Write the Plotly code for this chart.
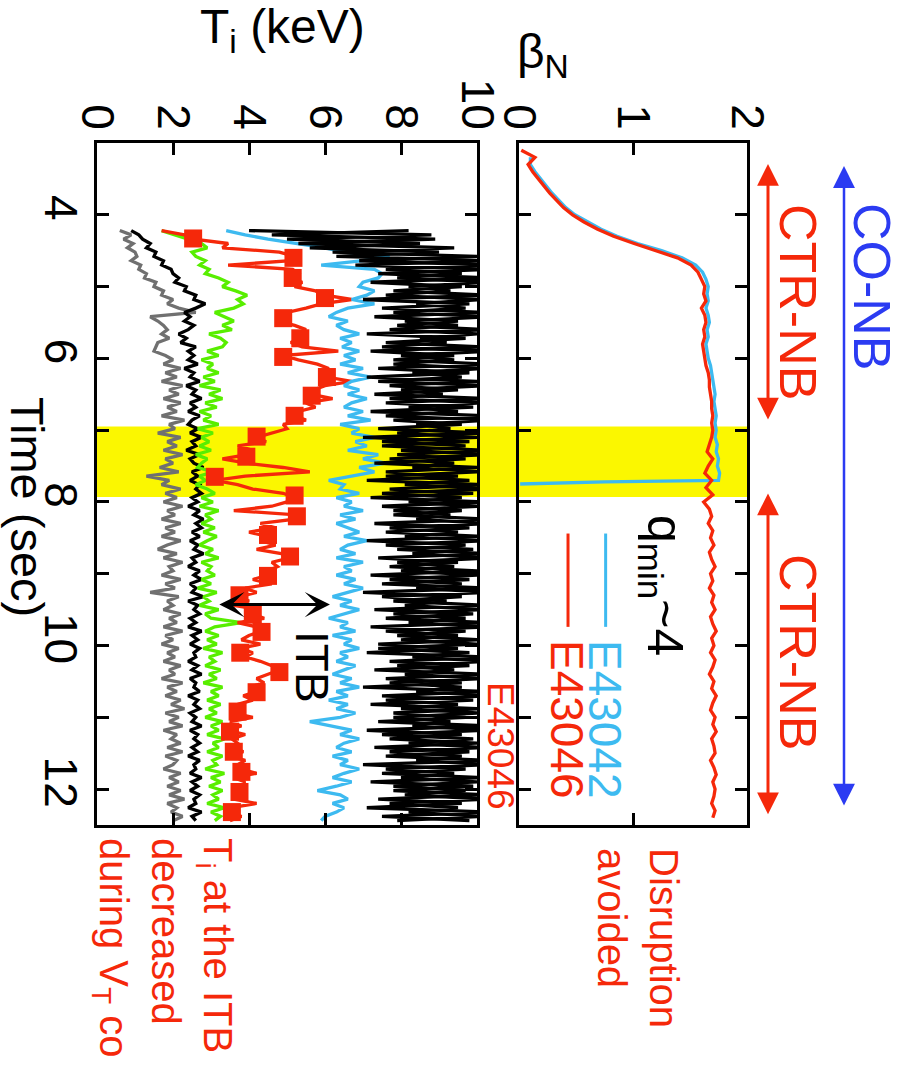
import numpy as np
import plotly.graph_objects as go

W, H = 903, 1066

RED = "#f5280a"
CYAN = "#3dbaf0"
BLUE = "#2b3bf2"
GREEN = "#58ee00"
GRAY = "#707070"
YELLOW = "#fbf700"
FONT = "Liberation Sans, Arial, sans-serif"

# ---------------- beta_N (upper panel) ----------------
t_beta_46 = np.round(3.1 + 0.1 * np.arange(94), 2)
beta_46 = [
    0.02, 0.14, 0.08, 0.12, 0.17, 0.22, 0.27, 0.33, 0.39, 0.47,
    0.57, 0.69, 0.83, 1.01, 1.21, 1.39, 1.51, 1.57, 1.60, 1.63,
    1.62, 1.64, 1.60, 1.63, 1.64, 1.62, 1.63, 1.61, 1.62, 1.63,
    1.64, 1.66, 1.67, 1.67, 1.68, 1.69, 1.69, 1.70, 1.69, 1.70,
    1.69, 1.67, 1.65, 1.70, 1.66, 1.63, 1.69, 1.64, 1.70, 1.62,
    1.67, 1.69, 1.66, 1.70, 1.68, 1.71, 1.67, 1.69, 1.72, 1.68,
    1.70, 1.67, 1.71, 1.69, 1.72, 1.68, 1.70, 1.73, 1.69, 1.71,
    1.68, 1.72, 1.70, 1.67, 1.71, 1.69, 1.73, 1.70, 1.68, 1.72,
    1.70, 1.73, 1.69, 1.71, 1.72, 1.68, 1.71, 1.73, 1.70, 1.72,
    1.71, 1.69, 1.72, 1.70,
]

t_beta_42 = list(np.round(3.2 + 0.1 * np.arange(46), 2)) + [7.72, 7.75]
beta_42 = [
    0.10, 0.10, 0.14, 0.19, 0.24, 0.29, 0.35, 0.41, 0.49, 0.60,
    0.72, 0.86, 1.04, 1.25, 1.43, 1.55, 1.61, 1.64, 1.66, 1.65,
    1.66, 1.64, 1.66, 1.67, 1.65, 1.66, 1.64, 1.65, 1.66, 1.68,
    1.69, 1.70, 1.71, 1.72, 1.71, 1.72, 1.73, 1.72, 1.73, 1.72,
    1.74, 1.73, 1.75, 1.74, 1.76, 1.75,
    0.75, 0.01,
]

# ---------------- T_i channels (lower panel) ----------------
t_ti = np.round(4.22 + 0.06 * np.arange(138), 2)

ti_gray = [
    0.6, 0.9, 0.7, 0.95, 0.8, 1.0, 1.05, 0.9, 1.15, 1.1,
    1.3, 1.25, 1.55, 1.5, 1.75, 1.7, 2.0, 1.85, 2.15, 2.6,
    1.4, 1.6, 1.75, 1.85, 1.7, 1.9, 1.6, 1.55, 1.5, 1.8,
    2.0, 1.75, 2.2, 1.8, 2.1, 1.7, 2.25, 1.9, 2.15, 1.75,
    2.2, 1.85, 2.1, 1.7, 2.3, 1.9, 2.05, 1.6, 2.2, 1.85,
    2.1, 1.75, 2.25, 1.8, 2.0, 1.65, 2.15, 1.3, 1.9, 1.7,
    2.2, 1.8, 2.1, 1.75, 2.25, 1.85, 2.05, 1.7, 2.2, 1.8,
    2.05, 1.7, 2.2, 1.85, 1.6, 2.1, 1.75, 2.25, 1.9, 2.0,
    1.7, 2.2, 1.8, 2.05, 1.4, 2.15, 1.85, 2.0, 1.75, 2.2,
    1.9, 2.1, 1.75, 2.25, 1.8, 2.0, 1.7, 2.15, 1.85, 2.05,
    1.75, 2.2, 1.9, 2.05, 1.7, 2.25, 1.85, 2.1, 1.8, 2.2,
    1.95, 2.3, 1.8, 2.15, 1.9, 2.25, 1.75, 2.1, 1.95, 2.2,
    1.85, 2.25, 1.8, 2.1, 2.0, 1.75, 2.2, 1.9, 2.15, 1.85,
    2.2, 1.9, 2.3, 1.85, 2.1, 1.95, 2.25, 2.0,
]

ti_black_low = [
    0.9, 1.1, 1.2, 1.4, 1.3, 1.55, 1.5, 1.75, 1.7, 1.95,
    2.0, 2.15, 2.05, 2.35, 2.3, 2.6, 2.55, 2.85, 2.6, 2.3,
    2.45, 2.3, 2.55, 2.4, 2.15, 2.35, 2.2, 2.6, 2.4, 2.55,
    2.4, 2.65, 2.3, 2.55, 2.45, 2.7, 2.35, 2.6, 2.5, 2.75,
    2.45, 2.6, 2.4, 2.7, 2.5, 2.4, 2.65, 2.45, 2.75, 2.5,
    2.6, 2.35, 2.7, 2.45, 2.55, 2.8, 2.5, 2.65, 2.45, 2.7,
    2.6, 2.75, 2.5, 2.65, 2.4, 2.7, 2.55, 2.8, 2.6, 2.75,
    2.5, 2.7, 2.45, 2.65, 2.55, 2.8, 2.5, 2.6, 2.4, 2.7,
    2.55, 2.75, 2.45, 2.6, 2.5, 2.8, 2.4, 2.65, 2.55, 2.7,
    2.45, 2.6, 2.4, 2.75, 2.5, 2.65, 2.45, 2.7, 2.55, 2.6,
    2.4, 2.65, 2.5, 2.75, 2.45, 2.6, 2.55, 2.7, 2.4, 2.65,
    2.55, 2.7, 2.45, 2.6, 2.5, 2.75, 2.45, 2.65, 2.55, 2.7,
    2.5, 2.65, 2.4, 2.7, 2.55, 2.6, 2.45, 2.75, 2.5, 2.65,
    2.45, 2.7, 2.55, 2.6, 2.4, 2.75, 2.5, 2.6,
]

ti_green = [
    1.7, 2.05, 2.4, 2.75, 2.9, 2.5, 2.6, 2.85, 2.7, 2.95,
    2.85, 3.2, 3.45, 3.3, 3.65, 3.95, 3.7, 3.85, 3.6, 3.1,
    3.35, 3.6, 3.3, 3.55, 2.95, 3.25, 3.4, 3.3, 2.9, 3.2,
    2.75, 3.05, 2.9, 3.2, 2.8, 3.1, 2.7, 3.25, 2.95, 3.3,
    2.85, 3.15, 2.7, 3.0, 2.8, 3.2, 2.65, 3.05, 2.75, 2.95,
    2.7, 3.0, 2.6, 2.9, 2.75, 2.65, 3.05, 2.7, 2.85, 2.6,
    2.9, 3.1, 2.75, 3.05, 2.7, 3.2, 2.85, 3.0, 2.75, 3.1,
    2.8, 3.15, 2.9, 2.7, 3.05, 2.85, 3.2, 2.75, 3.0, 2.9,
    3.1, 2.75, 3.0, 2.65, 3.15, 2.8, 2.95, 2.7, 3.2, 2.85,
    3.0, 3.8, 3.1, 2.85, 3.2, 2.9, 3.15, 2.8, 3.3, 2.95,
    3.1, 2.85, 3.25, 2.95, 3.15, 2.8, 3.3, 3.0, 3.2, 2.9,
    3.25, 2.95, 3.15, 2.85, 3.3, 3.0, 3.2, 2.9, 3.35, 3.05,
    3.2, 2.9, 3.3, 3.05, 3.15, 2.85, 3.35, 3.0, 3.25, 2.95,
    3.3, 3.05, 3.2, 2.9, 3.35, 3.0, 3.25, 3.1,
]

ti_red = [
    1.7, 2.3, 2.55, 3.45, 3.3, 4.8, 5.2, 5.1, 3.45, 5.15,
    5.3, 5.1, 5.4, 5.2, 5.75, 6.0, 6.7, 5.9, 5.5, 5.0,
    4.9, 4.75, 5.2, 5.5, 5.3, 5.35, 5.1, 5.4, 6.35, 4.9,
    5.3, 5.8, 6.1, 5.9, 6.05, 6.7, 6.0, 5.7, 5.65, 6.2,
    5.5, 5.75, 5.3, 5.2, 5.5, 4.9, 5.0, 4.6, 4.2, 4.45,
    3.7, 4.1, 3.95, 3.3, 3.93, 4.9, 5.6, 3.9, 3.1, 3.7,
    4.1, 4.9, 5.2, 5.0, 4.6, 3.6, 5.26, 5.2, 4.3, 4.7,
    4.0, 4.5, 4.3, 4.7, 4.2, 4.85, 5.08, 4.6, 4.75, 4.5,
    4.5, 4.1, 4.6, 3.9, 4.2, 3.75, 4.0, 3.6, 4.25, 4.1,
    4.4, 3.7, 4.2, 4.33, 4.0, 3.8, 4.3, 3.77, 4.1, 3.9,
    4.3, 4.6, 4.8, 4.5, 4.2, 4.4, 4.0, 4.2, 3.85, 4.1,
    3.7, 3.9, 3.6, 4.1, 3.5, 3.8, 3.45, 3.9, 3.55, 3.7,
    3.6, 3.85, 3.5, 3.9, 3.7, 3.8, 4.2, 3.6, 3.9, 3.7,
    3.75, 3.95, 3.6, 4.2, 3.5, 3.55, 3.8, 3.5,
]

t_red_sq = [4.33, 4.60, 4.88, 5.16, 5.44, 5.72, 5.98, 6.26, 6.52, 6.80,
            7.09, 7.37, 7.65, 7.91, 8.20, 8.46, 8.76, 9.03, 9.30, 9.57,
            9.81, 10.10, 10.37, 10.65, 10.92, 11.20, 11.48, 11.76, 12.04, 12.32]
ti_red_sq = [2.53, 5.17, 5.15, 6.0, 4.9, 5.35, 4.9, 6.05, 5.65, 5.2,
             4.2, 3.93, 3.1, 5.2, 5.26, 4.5, 5.08, 4.5, 3.75, 4.1,
             4.33, 3.77, 4.8, 4.2, 3.7, 3.5, 3.6, 3.8, 3.75, 3.55]

ti_cyan = [
    3.4, 3.9, 4.5, 5.3, 6.0, 6.5, 7.7, 7.0, 5.9, 7.3,
    7.5, 7.4, 7.0, 6.9, 7.3, 7.1, 6.7, 7.3, 6.6, 6.3,
    6.1, 6.6, 6.3, 6.5, 6.9, 6.4, 6.7, 6.45, 6.9, 6.5,
    6.8, 6.4, 7.0, 6.6, 7.2, 6.7, 6.5, 6.9, 6.6, 7.1,
    6.7, 6.5, 7.0, 6.6, 7.2, 6.4, 6.9, 6.7, 7.3, 6.8,
    7.1, 6.6, 7.4, 7.0, 7.6, 6.9, 7.3, 6.7, 6.1, 6.5,
    6.4, 6.9, 6.3, 6.7, 6.5, 7.0, 6.4, 6.8, 6.3, 6.6,
    6.9, 6.5, 7.1, 6.6, 6.4, 6.8, 6.3, 7.0, 6.5, 6.7,
    6.3, 6.8, 6.5, 7.0, 6.6, 6.2, 6.7, 6.4, 6.9, 6.5,
    6.1, 6.6, 6.4, 6.8, 6.2, 6.7, 6.5, 6.9, 6.4, 6.6,
    6.3, 6.8, 6.5, 6.2, 6.7, 6.4, 6.9, 6.3, 6.6, 6.1,
    6.6, 6.3, 6.8, 6.4, 5.6, 6.2, 6.7, 6.4, 6.9, 6.5,
    6.3, 6.7, 6.2, 6.6, 6.4, 6.9, 6.5, 6.2, 6.7, 6.3,
    5.8, 6.4, 6.6, 6.2, 6.5, 6.3, 6.0, 5.9,
]

ti_black_a = [
    4.0, 8.8, 5.0, 8.5, 5.6, 9.0, 6.3, 10.3, 6.8, 10.3,
    7.4, 10.3, 7.2, 9.6, 7.8, 10.3, 7.0, 9.8, 7.5, 10.2,
    7.3, 9.5, 7.9, 10.3, 7.1, 9.7, 7.6, 10.1, 7.2, 9.4,
    7.8, 10.3, 7.4, 9.8, 7.1, 10.0, 7.7, 9.5, 7.3, 10.3,
    7.6, 9.9, 7.2, 10.3, 7.8, 9.6, 7.4, 10.2, 7.0, 9.8,
    7.5, 10.3, 7.9, 9.7, 7.3, 10.1, 7.6, 9.5, 7.1, 10.3,
    7.7, 9.9, 7.2, 10.2, 7.5, 9.6, 7.8, 10.3, 7.3, 9.8,
    7.6, 10.1, 7.1, 9.7, 7.9, 10.3, 7.4, 9.5, 7.7, 10.0,
    7.2, 9.8, 7.5, 10.3, 7.0, 9.6, 7.8, 10.2, 7.3, 9.9,
    7.6, 10.3, 7.2, 9.7, 7.9, 10.1, 7.4, 9.5, 7.1, 10.3,
    7.7, 9.8, 7.3, 10.2, 7.6, 9.6, 7.0, 10.3, 7.5, 9.9,
    7.2, 10.1, 7.8, 9.7, 7.4, 10.3, 7.1, 9.6, 7.7, 10.0,
    7.3, 9.8, 7.6, 10.3, 7.0, 9.7, 7.5, 10.1, 7.2, 9.9,
    7.8, 10.2, 7.4, 9.6, 7.1, 10.3, 7.5, 9.8,
]

ti_black_b = [
    8.2, 4.6, 8.9, 5.3, 9.4, 6.2, 10.0, 6.9, 10.3, 7.6,
    9.6, 7.9, 10.3, 8.2, 9.3, 7.6, 10.1, 8.4, 9.7, 7.8,
    10.3, 8.1, 9.5, 7.7, 10.0, 8.5, 9.2, 7.5, 10.3, 8.0,
    9.4, 7.8, 10.2, 8.3, 9.6, 7.4, 10.3, 8.0, 9.1, 7.7,
    10.1, 8.2, 9.5, 7.6, 10.3, 8.4, 9.3, 7.9, 10.0, 7.5,
    9.7, 8.0, 10.3, 7.7, 9.4, 8.3, 10.1, 7.6, 9.8, 8.1,
    10.3, 7.5, 9.6, 8.2, 10.0, 7.8, 9.3, 8.4, 10.3, 7.7,
    9.5, 8.1, 10.2, 7.6, 9.9, 8.3, 10.3, 7.9, 9.4, 8.0,
    10.0, 7.7, 9.6, 8.4, 10.3, 7.5, 9.2, 8.1, 10.1, 7.8,
    9.7, 8.2, 10.3, 7.6, 9.5, 8.0, 10.0, 7.4, 9.8, 8.3,
    10.3, 7.9, 9.4, 8.1, 10.2, 7.7, 9.6, 8.4, 10.3, 7.6,
    9.5, 8.0, 10.1, 7.8, 9.3, 8.3, 10.3, 7.5, 9.9, 8.2,
    10.2, 7.7, 9.6, 8.4, 10.3, 7.6, 9.4, 8.0, 10.0, 7.8,
    9.7, 8.1, 10.3, 7.7, 9.5, 8.2, 10.1, 7.9,
]

# axis ticks
ti_ticks = [0, 2, 4, 6, 8, 10]
beta_ticks = [0, 1, 2]
time_ticks = [4, 5, 6, 7, 8, 9, 10, 11, 12]
time_ticktext = ["4", "", "6", "", "8", "", "10", "", "12"]

# beam phases (time spans, s) for the arrows right of the beta_N panel
ctr_nb_phases = [(3.27, 6.85), (7.86, 12.35)]
co_nb_phase = (3.30, 12.23)

# ---------------- figure ----------------
fig = go.Figure()

def line_trace(x, y, color, xa, ya, width=3.3):
    fig.add_trace(go.Scatter(x=x, y=y, mode="lines", xaxis=xa, yaxis=ya,
                             line=dict(color=color, width=width),
                             showlegend=False, hoverinfo="skip"))

# lower panel: T_i
line_trace(ti_gray, t_ti, GRAY, "x", "y")
line_trace(ti_black_low, t_ti, "black", "x", "y")
line_trace(ti_green, t_ti, GREEN, "x", "y")
line_trace(ti_red, t_ti, RED, "x", "y")
fig.add_trace(go.Scatter(x=ti_red_sq, y=t_red_sq, mode="markers", xaxis="x", yaxis="y",
                         marker=dict(symbol="square", size=18, color=RED),
                         showlegend=False, hoverinfo="skip"))
line_trace(ti_cyan, t_ti, CYAN, "x", "y")
line_trace(ti_black_a, t_ti, "black", "x", "y")
line_trace(ti_black_b, t_ti, "black", "x", "y")

# upper panel: beta_N
line_trace(beta_42, t_beta_42, CYAN, "x2", "y2")
line_trace(beta_46, t_beta_46, RED, "x2", "y2")

axis_common = dict(
    showline=True, linewidth=3, linecolor="black", mirror="allticks",
    ticks="inside", ticklen=12, tickwidth=3, tickcolor="black",
    showgrid=False, zeroline=False, automargin=False,
    tickfont=dict(size=46, color="black", family=FONT),
)
Y_TOP, Y_BOT = 143, 825
T_MIN, T_MAX = 3, 12.5
y_dom = [1 - Y_BOT / H, 1 - Y_TOP / H]

fig.update_layout(
    width=W, height=H,
    margin=dict(l=0, r=0, t=0, b=0, autoexpand=False),
    paper_bgcolor="white", plot_bgcolor="rgba(0,0,0,0)",
    font=dict(family=FONT, color="black"),
    showlegend=False,
    xaxis=dict(domain=[97 / W, 477 / W], range=[0, 10], side="top", anchor="y",
               tickvals=ti_ticks, tickangle=90, ticklabelstandoff=-6, **axis_common),
    yaxis=dict(domain=y_dom, range=[T_MAX, T_MIN], anchor="x",
               tickvals=time_ticks, ticktext=time_ticktext, tickangle=90,
               ticklabelstandoff=-6, **axis_common),
    xaxis2=dict(domain=[519 / W, 747 / W], range=[0, 2], side="top", anchor="y2",
                tickvals=beta_ticks, tickangle=90, ticklabelstandoff=-6, **axis_common),
    yaxis2=dict(domain=y_dom, range=[T_MAX, T_MIN], anchor="x2",
                tickvals=time_ticks, showticklabels=False, **axis_common),
)

# yellow time window spanning both panels
fig.add_shape(type="rect", xref="paper", yref="y", x0=97 / W, x1=749 / W,
              y0=6.95, y1=7.93, fillcolor=YELLOW, line=dict(width=0), layer="below")

# legend strokes in the beta_N panel
fig.add_shape(type="line", xref="x2", yref="y2", x0=0.43, x1=0.43, y0=8.44, y1=9.74,
              line=dict(color=RED, width=3))
fig.add_shape(type="line", xref="x2", yref="y2", x0=0.76, x1=0.76, y0=8.44, y1=9.74,
              line=dict(color=CYAN, width=3))

def t_to_px(t):
    return Y_TOP + (t - T_MIN) * (Y_BOT - Y_TOP) / (T_MAX - T_MIN)

def phase_arrow(x_px, span, color, width, size):
    t0, t1 = span
    y0, y1 = t_to_px(t0), t_to_px(t1)
    fig.add_annotation(xref="paper", yref="paper", x=x_px / W, y=1 - y1 / H,
                       axref="pixel", ayref="pixel", ax=0, ay=y0 - y1,
                       text="", showarrow=True, arrowside="end+start",
                       arrowhead=2, startarrowhead=2, arrowsize=size,
                       startarrowsize=size, arrowwidth=width, arrowcolor=color)

for span in ctr_nb_phases:
    phase_arrow(768, span, RED, 3, 1.45)
phase_arrow(844, co_nb_phase, BLUE, 2.5, 1.75)

# ITB width marker
fig.add_annotation(xref="x", yref="y", axref="x", ayref="y", x=6.13, y=9.43, ax=3.18, ay=9.43,
                   text="", showarrow=True, arrowside="end+start",
                   arrowhead=3, startarrowhead=3, arrowsize=1.4, startarrowsize=1.4,
                   arrowwidth=3, arrowcolor="black")

def label(text, x, y, size, color="black", angle=90, align="center"):
    fig.add_annotation(text=text, xref="paper", yref="paper", x=x / W, y=1 - y / H,
                       xanchor="center", yanchor="middle",
                       showarrow=False, textangle=angle, align=align,
                       font=dict(size=size, color=color, family=FONT))

label("T<sub>i</sub> (keV)", 282, 30, 48, angle=0)
label("β<sub>N</sub>", 543, 55, 48, angle=0)
label("Time (sec)", 28, 507, 47)
label("CTR-NB", 798, 302, 52, RED)
label("CTR-NB", 798, 652, 52, RED)
label("CO-NB", 872, 287, 52, BLUE)
label("q<sub>min</sub>~4", 662, 585, 50)
label("E43042", 605, 719, 46, CYAN)
label("E43046", 567, 719, 46, RED)
label("ITB", 312, 667, 46)
label("E43046", 501, 746, 37, RED)
label("Disruption<br>avoided", 638, 938, 40, RED, align="left")
label("T<sub>i</sub> at the ITB<br>decreased<br>during V<sub>T</sub> co", 163, 947, 40, RED, align="left")

fig.write_html("out.html")
